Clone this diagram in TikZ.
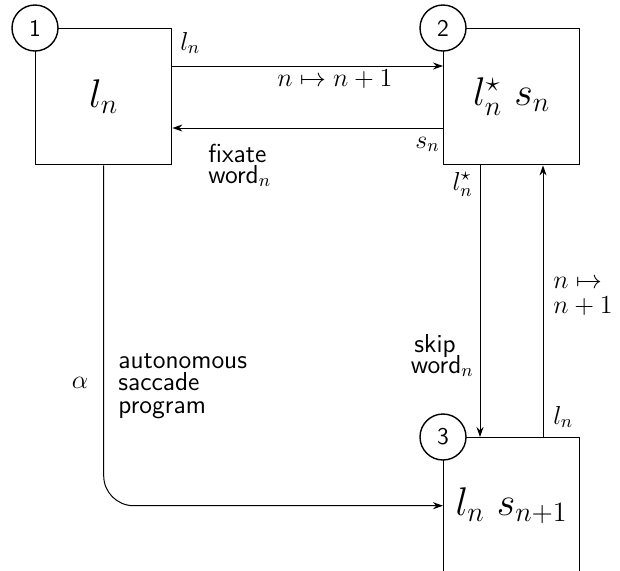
\RequirePackage{fix-cm}
\documentclass[tikz,border=0pt]{standalone}
\usetikzlibrary{arrows.meta}
\begin{document}
\begin{tikzpicture}[x=0.5pt,y=-0.5pt,
 box/.style={draw,line width=0.7pt,minimum width=68pt,minimum height=68pt,anchor=north west,inner sep=0pt,font=\fontsize{20}{24}\selectfont},
 num/.style={draw,circle,fill=white,line width=0.7pt,minimum size=23pt,inner sep=0pt,font=\sffamily\fontsize{12}{12}\selectfont},
 arr/.style={-{Stealth[length=5pt,width=3.5pt]},line width=0.5pt},
 lab/.style={font=\fontsize{13}{13}\selectfont,inner sep=0pt},
 txt/.style={font=\sffamily\fontsize{13}{13}\selectfont,inner sep=0pt}]
\useasboundingbox (0,0) rectangle (620,570);
\clip (0,0) rectangle (620,570);
\node[box] (b1) at (35,28) {$l_n$};
\node[box] (b2) at (443,28) {$l^\star_n\ s_n$};
\node[box] (b3) at (443,437) {$l_n\ s_{n+1}$};
\node[num] (c1) at (b1.north west) {1};
\node[num] (c2) at (b2.north west) {2};
\node[num] (c3) at (b3.north west) {3};
% connectors
\coordinate (t1) at ([yshift=-19pt]b1.north east);
\coordinate (t2) at ([yshift=-19pt]b2.north west);
\draw[arr] (t1) -- (t2);
\coordinate (f2) at ([yshift=-50pt]b2.north west);
\coordinate (f1) at ([yshift=-50pt]b1.north east);
\draw[arr] (f2) -- (f1);
\coordinate (d2) at ([xshift=18.5pt]b2.south west);
\coordinate (d3) at ([xshift=18.5pt]b3.north west);
\draw[arr] (d2) -- (d3);
\coordinate (u3) at ([xshift=50pt]b3.north west);
\coordinate (u2) at ([xshift=50pt]b2.south west);
\draw[arr] (u3) -- (u2);
\draw[arr,rounded corners=15pt] (b1.south) |- (b3.west);
% labels
\node[lab,anchor=base west] (L1) at (180,50) {$l_n$};
\node[lab,anchor=base west] (L2) at (277,86) {$n\mapsto n+1$};
\node[lab,anchor=base east] (L3) at (440,148) {$s_n$};
\node[txt,anchor=base west] (L4a) at (208,162) {fixate};
\node[txt,anchor=base west] (L4b) at (208,183) {word$_n$};
\node[lab,anchor=base east] (L5) at (473,190) {$l^\star_n$};
\node[txt,anchor=base east] (L6a) at (456,352) {skip};
\node[txt,anchor=base east] (L6b) at (474,373) {word$_n$};
\node[lab,anchor=base west] (L7a) at (553,288) {$n\mapsto$};
\node[lab,anchor=base west] (L7b) at (553,313) {$n+1$};
\node[lab,anchor=base west] (L8) at (553,424) {$l_n$};
\node[lab,anchor=base] (L9) at (80,388) {$\alpha$};
\node[txt,anchor=base west] (L10a) at (118,368) {autonomous};
\node[txt,anchor=base west] (L10b) at (118,390) {saccade};
\node[txt,anchor=base west] (L10c) at (118,413) {program};
\end{tikzpicture}
\end{document}
